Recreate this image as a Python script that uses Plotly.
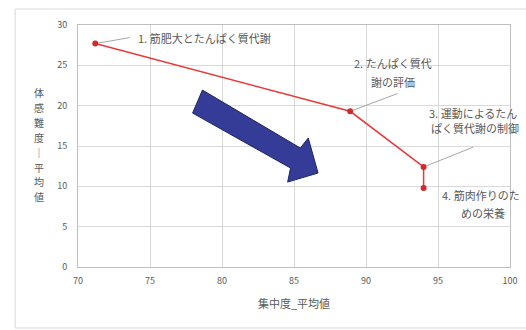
import plotly.graph_objects as go

# ---- data ----
x_vals = [71.2, 88.9, 94.0, 94.0]
y_vals = [27.7, 19.3, 12.4, 9.8]
label_lines = [
    ["1. 筋肥大とたんぱく質代謝"],
    ["2. たんぱく質代", "謝の評価"],
    ["3. 運動によるたん", "ぱく質代謝の制御"],
    ["4. 筋肉作りのた", "めの栄養"],
]
x_ticks = [70, 75, 80, 85, 90, 95, 100]
y_ticks = [0, 5, 10, 15, 20, 25, 30]
x_title = "集中度_平均値"
y_title_chars = ["体", "感", "難", "度", "｜", "平", "均", "値"]

# decorative block arrow (data coordinates)
arrow_x = [78.64, 85.44, 85.99, 86.67, 84.56, 84.76, 77.96]
arrow_y = [21.93, 14.75, 15.99, 11.65, 10.53, 12.27, 19.08]

FONT = "Noto Sans CJK JP"
GRAY = "#595959"

fig = go.Figure()

fig.add_trace(go.Scatter(
    x=arrow_x + [arrow_x[0]], y=arrow_y + [arrow_y[0]],
    mode="lines", fill="toself", fillcolor="#343C97",
    line=dict(color="#20255F", width=1), hoverinfo="skip", showlegend=False,
))

fig.add_trace(go.Scatter(
    x=x_vals, y=y_vals, mode="lines+markers",
    line=dict(color="#E8393B", width=1.5),
    marker=dict(color="#D02A2E", size=6),
    showlegend=False, cliponaxis=False,
))

ann = []
tf = dict(family=FONT, size=11, color=GRAY)

def leader(i, ax, ay):
    ann.append(dict(x=x_vals[i], y=y_vals[i], text=" ", showarrow=True,
                    arrowhead=0, arrowwidth=1, arrowcolor="#A6A6A6",
                    ax=ax, ay=ay, standoff=3, borderpad=0,
                    font=dict(size=1)))

def line(i, k, xs, ys, anchor):
    ann.append(dict(x=x_vals[i], y=y_vals[i], text=label_lines[i][k], showarrow=False,
                    xanchor=anchor, yanchor="middle", xshift=xs, yshift=ys, font=tf))

# label 1
leader(0, 35, -6)
line(0, 0, 41, 6, "left")
# label 2
leader(1, 48, -18)
line(1, 0, 43, 48, "center")
line(1, 1, 43, 29, "center")
# label 3
leader(2, 50, -20)
line(2, 0, 3, 54, "left")
line(2, 1, 5, 39, "left")
# label 4
line(3, 0, 16, -7, "left")
line(3, 1, 59, -25, "center")

# y axis title (stacked vertical)
for j, ch in enumerate(y_title_chars):
    ann.append(dict(xref="paper", yref="paper", x=(38 - 78) / 440,
                    y=(267 - (93 + j * 14.8)) / 242,
                    text=ch, showarrow=False, xanchor="center", yanchor="middle",
                    font=dict(family=FONT, size=10, color=GRAY)))

fig.update_layout(
    width=526, height=330,
    margin=dict(l=78, r=8, t=25, b=63),
    paper_bgcolor="white", plot_bgcolor="white",
    font=dict(family=FONT, color=GRAY, size=10),
    annotations=ann,
    shapes=[dict(type="rect", xref="paper", yref="paper",
                 x0=(14 - 78) / 440, x1=1.1, y0=(267 - 328) / 242, y1=(267 - 9) / 242,
                 line=dict(color="#D9D9D9", width=1), layer="below")],
)
fig.update_xaxes(range=[70, 100], tickvals=x_ticks, ticktext=[str(v) for v in x_ticks],
                 showgrid=True, gridcolor="#D9D9D9", gridwidth=1,
                 showline=True, linecolor="#BFBFBF", linewidth=1, mirror=True,
                 zeroline=False, tickfont=dict(family=FONT, size=9, color=GRAY),
                 ticklabelstandoff=5,
                 title=dict(text=x_title, font=dict(family=FONT, size=11, color=GRAY), standoff=14))
fig.update_yaxes(range=[0, 30], tickvals=y_ticks, ticktext=[str(v) for v in y_ticks],
                 showgrid=True, gridcolor="#D9D9D9", gridwidth=1,
                 showline=True, linecolor="#BFBFBF", linewidth=1, mirror=True,
                 zeroline=False, tickfont=dict(family=FONT, size=9, color=GRAY),
                 ticklabelstandoff=8)

fig.write_html("out.html")
